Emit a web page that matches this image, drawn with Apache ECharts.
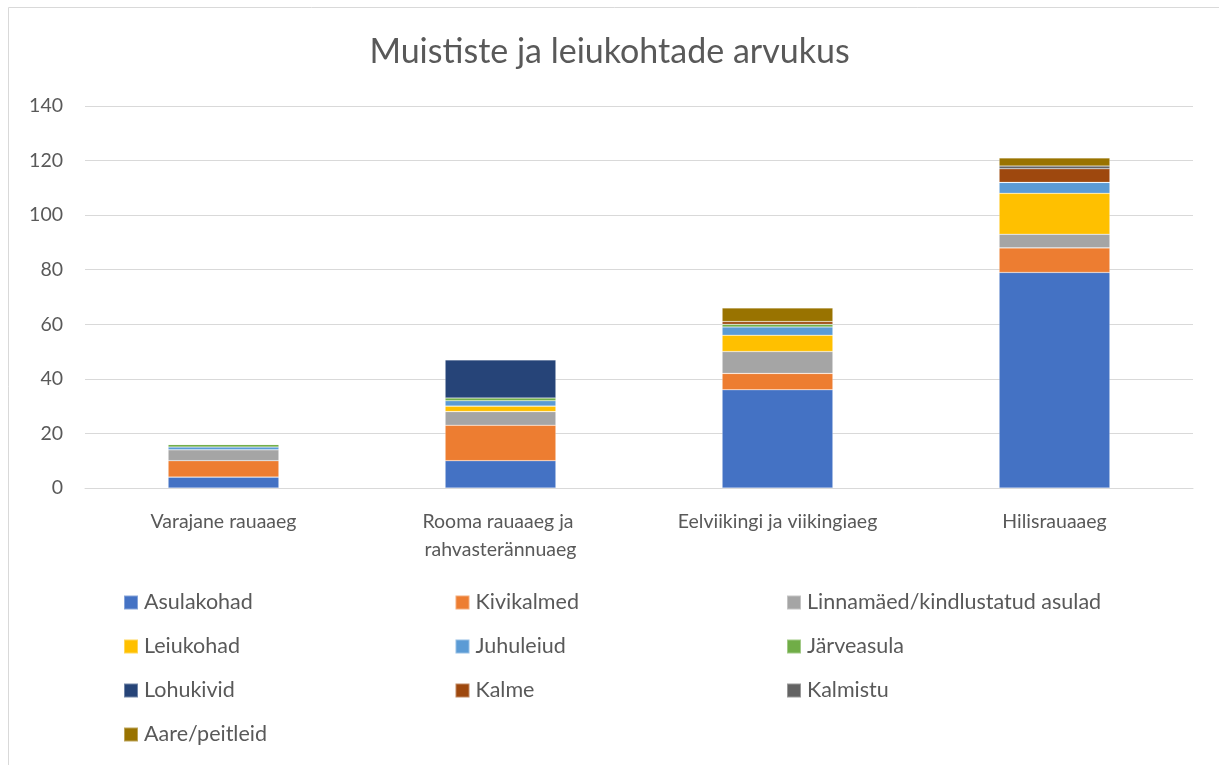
<!DOCTYPE html>
<html>
<head>
<meta charset="utf-8">
<script src="https://cdn.jsdelivr.net/npm/echarts@6/dist/echarts.min.js"></script>
<style>html,body{margin:0;padding:0;background:#fff}#c{width:1219px;height:765px}</style>
</head>
<body>
<div id="c"></div>
<script>
const categories = ["Varajane rauaaeg", "Rooma rauaaeg ja rahvasterännuaeg", "Eelviikingi ja viikingiaeg", "Hilisrauaaeg"];
const seriesNames = ["Asulakohad", "Kivikalmed", "Linnamäed/kindlustatud asulad", "Leiukohad", "Juhuleiud", "Järveasula", "Lohukivid", "Kalme", "Kalmistu", "Aare/peitleid"];
const asulakohad = [4, 10, 36, 79];
const kivikalmed = [6, 13, 6, 9];
const linnamaed = [4, 5, 8, 5];
const leiukohad = [0, 2, 6, 15];
const juhuleiud = [1, 2, 3, 4];
const jarveasula = [1, 1, 1, 0];
const lohukivid = [0, 14, 0, 0];
const kalme = [0, 0, 1, 5];
const kalmistu = [0, 0, 0, 1];
const aare = [0, 0, 5, 3];
const yTicks = [0, 20, 40, 60, 80, 100, 120, 140];

const values = [asulakohad, kivikalmed, linnamaed, leiukohad, juhuleiud, jarveasula, lohukivid, kalme, kalmistu, aare];
const colors = ["#4472C4", "#ED7D31", "#A5A5A5", "#FFC000", "#5B9BD5", "#70AD47", "#264478", "#9E480E", "#636363", "#997300"];
const font = "Lato, 'Open Sans', sans-serif";

const chart = echarts.init(document.getElementById('c'), null, {renderer: 'canvas'});
chart.setOption({
  animation: false,
  color: colors,
  title: {
    text: "Muististe ja leiukohtade arvukus",
    left: 'center', top: 30,
    textStyle: {fontFamily: font, fontSize: 34, fontWeight: 'normal', color: '#595959'}
  },
  graphic: [{
    type: 'rect', shape: {x: 8.5, y: 7.5, width: 1230, height: 780},
    style: {fill: 'none', stroke: '#d9d9d9', lineWidth: 1}, silent: true, z: -1
  }],
  grid: {left: 85, right: 26, top: 106, bottom: 277, containLabel: false},
  xAxis: {
    type: 'category', data: categories,
    axisTick: {show: false},
    axisLine: {lineStyle: {color: '#d9d9d9', width: 1}},
    axisLabel: {fontFamily: font, fontSize: 19.5, color: '#595959', margin: 20, width: 260, overflow: 'break', lineHeight: 28, interval: 0}
  },
  yAxis: {
    type: 'value', min: yTicks[0], max: yTicks[yTicks.length - 1], interval: 20,
    axisLine: {show: false}, axisTick: {show: false},
    splitLine: {lineStyle: {color: '#d9d9d9', width: 1}},
    axisLabel: {fontFamily: font, fontSize: 19.5, color: '#595959', margin: 22}
  },
  legend: {
    data: seriesNames,
    left: 123, top: 588, width: 1010, padding: 0,
    orient: 'horizontal',
    icon: 'rect', itemWidth: 14, itemHeight: 14, itemGap: 15,
    textStyle: {fontFamily: font, fontSize: 21.5, color: '#595959', width: 295.5, lineHeight: 29, padding: [0, 0, 0, 1]}
  },
  series: seriesNames.map((n, i) => ({
    name: n, type: 'bar', stack: 'total', barWidth: '40%',
    data: values[i],
    itemStyle: {color: colors[i], borderColor: 'rgba(255,255,255,0.35)', borderWidth: 0.6}
  }))
});
</script>
</body>
</html>
